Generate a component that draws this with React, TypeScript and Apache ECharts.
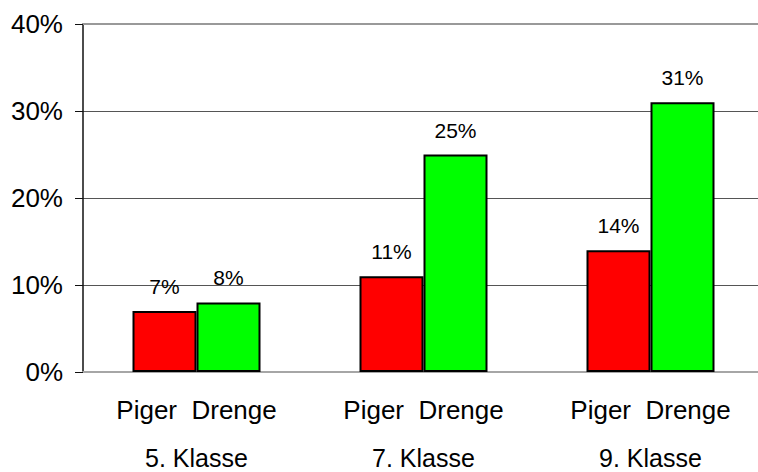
import React, { useEffect, useRef } from "react";
import * as echarts from "echarts";

// School grades and the share of girls / boys per grade (percent)
const grades = ["5. Klasse", "7. Klasse", "9. Klasse"];
const genders = ["Piger", "Drenge"];
const piger = [7, 11, 14];
const drenge = [8, 25, 31];
const yMin = 0;
const yMax = 40;
const yStep = 10;

const FONT = "'Liberation Sans', Arial, sans-serif";

export default function App() {
  const ref = useRef<HTMLDivElement>(null);

  useEffect(() => {
    if (!ref.current) return;
    const chart = echarts.init(ref.current, null, { renderer: "svg" });

    const barLabel = {
      show: true,
      position: "top" as const,
      distance: 14,
      fontSize: 21,
      fontFamily: FONT,
      color: "#000",
      formatter: (p: any) => `${p.value}%`,
    };

    chart.setOption({
      animation: false,
      backgroundColor: "#fff",
      textStyle: { fontFamily: FONT },
      grid: {
        left: 83,
        top: 24,
        width: 681,
        height: 348,
        containLabel: false,
        outerBoundsMode: "none",
      },
      xAxis: [
        {
          // bottom axis: gender labels under each grade
          type: "category",
          data: grades,
          position: "bottom",
          axisLine: { show: true, lineStyle: { color: "#a6a6a6", width: 2 } },
          axisTick: { show: false },
          axisLabel: {
            interval: 0,
            margin: 23,
            fontSize: 26,
            lineHeight: 30,
            color: "#000",
            fontFamily: FONT,
            formatter: () => genders.join("  "),
          },
        },
        {
          // plot-area top border
          type: "category",
          data: grades,
          position: "top",
          axisLine: { show: true, lineStyle: { color: "#999", width: 2 } },
          axisTick: { show: false },
          axisLabel: { show: false },
        },
        {
          // grade names, second row below the gender labels
          type: "category",
          data: grades,
          position: "bottom",
          axisLine: { show: false },
          axisTick: { show: false },
          axisLabel: {
            interval: 0,
            margin: 75,
            fontSize: 25,
            lineHeight: 22,
            color: "#000",
            fontFamily: FONT,
          },
        },
      ],
      yAxis: {
        type: "value",
        min: yMin,
        max: yMax,
        interval: yStep,
        axisLine: { show: true, lineStyle: { color: "#111", width: 1.5 } },
        axisTick: { show: true, length: 8, lineStyle: { color: "#111", width: 1 } },
        axisLabel: {
          margin: 20,
          fontSize: 26,
          color: "#000",
          fontFamily: FONT,
          formatter: (v: number) => `${v}%`,
        },
        splitLine: { show: true, lineStyle: { color: "#555", width: 1 } },
      },
      series: [
        {
          name: genders[0],
          type: "bar",
          data: piger,
          barWidth: 64,
          barGap: "0%",
          itemStyle: { color: "#ff0000", borderColor: "#000", borderWidth: 2 },
          label: barLabel,
        },
        {
          name: genders[1],
          type: "bar",
          data: drenge,
          barWidth: 64,
          barGap: "0%",
          itemStyle: { color: "#00ff00", borderColor: "#000", borderWidth: 2 },
          label: barLabel,
        },
      ],
    });

    return () => chart.dispose();
  }, []);

  return (
    <div
      ref={ref}
      style={{ position: "fixed", left: 0, top: 0, width: 758, height: 472 }}
    />
  );
}
